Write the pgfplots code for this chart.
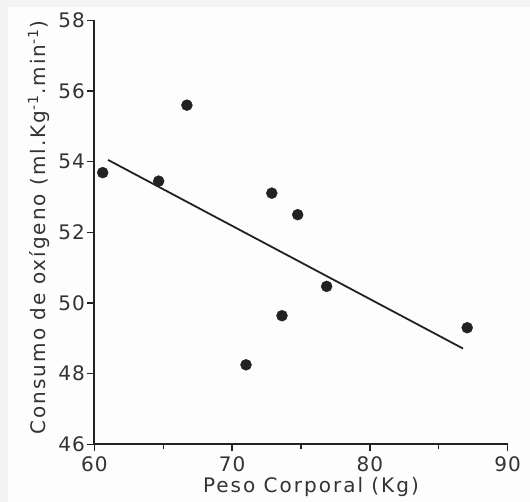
\documentclass[border=0pt]{standalone}
\usepackage{fontspec}
\setmainfont{DejaVu Sans}
\newfontfamily\lblfont[LetterSpace=10]{DejaVu Sans}
\newfontfamily\tickfont[LetterSpace=5]{DejaVu Sans}
\usepackage{pgfplots}
\pgfplotsset{compat=1.18}
\definecolor{outer}{HTML}{F3F3F3}
\definecolor{inner}{HTML}{FDFDFD}
\definecolor{ink}{HTML}{222222}
\definecolor{txt}{HTML}{333333}

\begin{document}
\begin{tikzpicture}[x=1bp,y=1bp]
  % background: grey strip top and left, white panel
  \fill[outer] (0,0) rectangle (530,502);
  \fill[inner] (8,0) rectangle (530,495);
  \begin{axis}[
      at={(94.3bp,57.7bp)}, anchor=south west,
      scale only axis, width=413.4bp, height=423.9bp,
      xmin=60, xmax=90, ymin=46, ymax=58,
      axis x line=bottom, axis y line=left,
      axis line style={-, ink, line width=1.8bp},
      xtick={60,70,80,90}, minor xtick={65,75,85},
      ytick={46,48,...,58},
      tick align=outside,
      major tick length=7bp, minor tick length=5bp,
      every tick/.style={ink, line width=1.3bp},
      /pgf/number format/assume math mode=true,
      tick label style={font=\tickfont\fontsize{20bp}{24bp}\selectfont, text=txt},
      xticklabel style={yshift=-2bp},
      yticklabel style={xshift=1bp},
      label style={font=\lblfont\fontsize{20bp}{24bp}\selectfont, text=txt},
      xlabel={Peso Corporal (Kg)},
      ylabel={Consumo de oxígeno (ml.Kg\textsuperscript{-1}.min\textsuperscript{-1})},
      xlabel style={at={(axis description cs:0.524,-0.10)}, anchor=center},
      ylabel style={at={(axis description cs:-0.134,0.511)}, anchor=center, rotate=0},
      clip=false,
    ]
    \addplot[only marks, mark=*, mark size=5.5bp, ink] coordinates {
      (60.61,53.69) (64.67,53.45) (66.72,55.60) (72.88,53.11) (74.76,52.50)
      (76.86,50.47) (73.62,49.64) (71.01,48.25) (87.06,49.30)
    };
    \addplot[no marks, ink, line width=1.8bp] coordinates {
      (61.0,54.05) (86.76,48.71)
    };
  \end{axis}
\end{tikzpicture}
\end{document}
